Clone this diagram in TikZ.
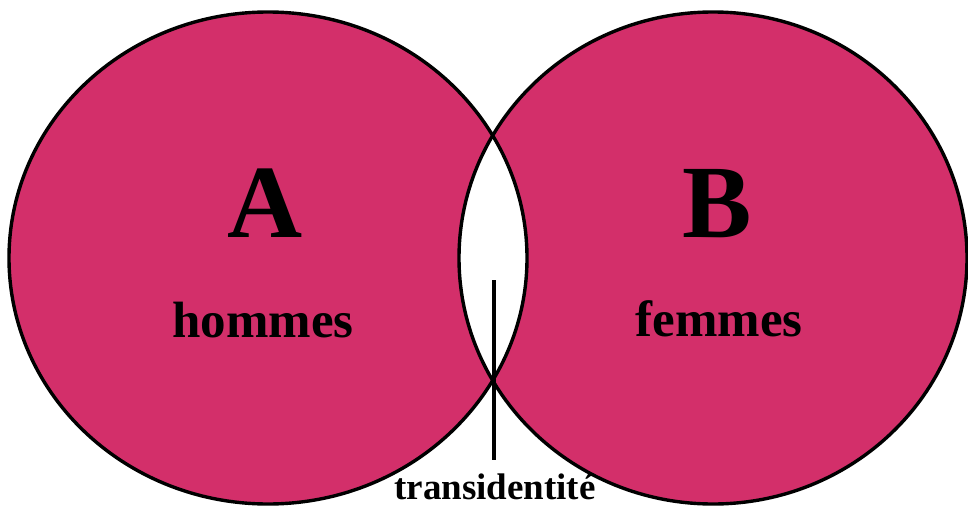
\documentclass[tikz,border=0pt]{standalone}
\usepackage{fontspec}
\setmainfont{Liberation Serif}
\definecolor{venn}{RGB}{211,47,106}
\begin{document}
\begin{tikzpicture}[x=1pt,y=-1pt,
  setfill/.style={fill=venn},
  setline/.style={draw=black,line width=3.4pt},
  biglabel/.style={anchor=base,font=\fontsize{104}{110}\selectfont\bfseries,inner sep=0pt},
  namelabel/.style={anchor=base,font=\fontsize{51}{56}\selectfont\bfseries,inner sep=0pt},
  smalllabel/.style={anchor=base,font=\fontsize{37}{40}\selectfont\bfseries,inner sep=0pt}]
\useasboundingbox (0,0) rectangle (968,506);
% sets
\fill[setfill] (268,258) ellipse [x radius=259, y radius=246];
\fill[setfill] (713,258) ellipse [x radius=254, y radius=246];
\begin{scope}
  \clip (268,258) ellipse [x radius=259, y radius=246];
  \fill[white] (713,258) ellipse [x radius=254, y radius=246];
\end{scope}
\draw[setline] (268,258) ellipse [x radius=259, y radius=246];
\draw[setline] (713,258) ellipse [x radius=254, y radius=246];
% labels
\node[biglabel] (A) at (265,237) {A};
\node[biglabel] (B) at (717,237) {B};
\node[namelabel] (hommes) at (263,337) {hommes};
\node[namelabel] (femmes) at (719,336) {femmes};
\node[smalllabel] (trans) at (495,499) {transidentité};
% pointer
\coordinate (ltop) at (494,280);
\coordinate (lbot) at (494,460);
\draw[line width=3.6pt] (ltop) -- (lbot);
\end{tikzpicture}
\end{document}
